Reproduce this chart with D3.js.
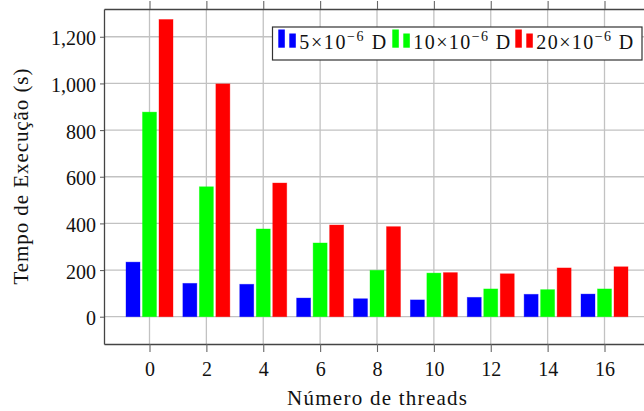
<!DOCTYPE html>
<html>
<head>
<meta charset="utf-8">
<script src="https://cdn.jsdelivr.net/npm/d3@7"></script>
<style>
	body { margin: 0; background: #fff; }
	svg { display: block; }
	svg text { font-family: "Liberation Serif", "Times New Roman", Times, "DejaVu Serif", serif; }
</style>
</head>
<body>
<svg id="chart"></svg>
<script>
// data
var threads = [0, 2, 4, 6, 8, 10, 12, 14, 16];
var serie5  = [234, 143, 139, 80, 77, 72, 83, 96, 97];
var serie10 = [877, 557, 376, 316, 199, 187, 119, 116, 119];
var serie20 = [1274, 998, 573, 393, 386, 189, 184, 209, 214];
var seriesMant = ["5", "10", "20"];
var seriesColors = ["#0000ff", "#00ff00", "#ff0000"];
var yTicks = [0, 200, 400, 600, 800, 1000, 1200];
var xLabel = "Número de threads";
var yLabel = "Tempo de Execução (s)";

var svgWidth = 644, svgHeight = 411;
// plot box (right edge falls outside the picture, as in the original)
var plotLeft = 104, plotRight = 650, plotTop = 9, plotBottom = 344;

var x = d3.scaleLinear().domain([-1.6, 17.6]).range([plotLeft, plotRight]);
var y = d3.scaleLinear().domain([-117, 1319]).range([plotBottom, plotTop]);

var series = [serie5, serie10, serie20];
var barW = 14, barStep = 16.5;

var svg = d3.select("#chart")
	.attr("width", svgWidth)
	.attr("height", svgHeight);

// grid
var grid = svg.append("g").attr("class", "grid")
	.attr("stroke", "#c2c2c2").attr("stroke-width", 1.3);
grid.selectAll(".vx").data(threads).enter().append("line")
	.attr("x1", d => x(d)).attr("x2", d => x(d))
	.attr("y1", plotTop).attr("y2", plotBottom);
grid.selectAll(".hy").data(yTicks).enter().append("line")
	.attr("x1", plotLeft).attr("x2", plotRight)
	.attr("y1", d => y(d)).attr("y2", d => y(d));

// bars
series.forEach(function(vals, i) {
	svg.append("g").attr("class", "bars")
		.selectAll("rect")
		.data(vals)
		.enter().append("rect")
			.attr("x", (d, j) => x(threads[j]) + (i - 1) * barStep - barW / 2)
			.attr("y", d => y(d))
			.attr("width", barW)
			.attr("height", d => y(0) - y(d))
			.attr("fill", seriesColors[i])
			.attr("stroke", seriesColors[i])
			.attr("stroke-opacity", 0.45)
			.attr("stroke-width", 0.8);
});

// axes
function styleAxis(g) {
	g.attr("font-family", null);
	g.select(".domain").attr("stroke", "#444").attr("stroke-width", 1.3);
	g.selectAll(".tick line").attr("stroke", "#666").attr("stroke-width", 1.1);
	g.selectAll("text").attr("font-size", 20).attr("fill", "#111");
}

svg.append("g")
	.attr("transform", "translate(0," + plotBottom + ")")
	.call(d3.axisBottom(x).tickValues(threads).tickSize(8).tickSizeOuter(0).tickPadding(10))
	.call(styleAxis);

svg.append("g")
	.attr("transform", "translate(0," + plotTop + ")")
	.call(d3.axisTop(x).tickValues(threads).tickSize(8).tickSizeOuter(0).tickFormat(""))
	.call(styleAxis);

svg.append("g")
	.attr("transform", "translate(" + plotLeft + ",0)")
	.call(d3.axisLeft(y).tickValues(yTicks).tickSize(4).tickSizeOuter(0).tickPadding(4)
		.tickFormat(d3.format(",")))
	.call(styleAxis)
	.selectAll("text").attr("dy", "0.4em");

svg.append("g")
	.attr("transform", "translate(" + plotRight + ",0)")
	.call(d3.axisRight(y).tickValues(yTicks).tickSize(4).tickSizeOuter(0).tickFormat(""))
	.call(styleAxis);

// axis labels
svg.append("text")
	.attr("x", (plotLeft + plotRight) / 2)
	.attr("y", 405)
	.attr("text-anchor", "middle")
	.attr("font-size", 21)
	.attr("textLength", 180)
	.attr("lengthAdjust", "spacing")
	.attr("fill", "#111")
	.text(xLabel);

svg.append("text")
	.attr("transform", "translate(28," + (plotTop + plotBottom) / 2 + ") rotate(-90)")
	.attr("text-anchor", "middle")
	.attr("font-size", 21)
	.attr("textLength", 216)
	.attr("lengthAdjust", "spacing")
	.attr("fill", "#111")
	.text(yLabel);

// legend
var legend = svg.append("g").attr("class", "legend");
legend.append("rect")
	.attr("x", 272.5).attr("y", 27)
	.attr("width", 369.5).attr("height", 33)
	.attr("fill", "#fff")
	.attr("stroke", "#333").attr("stroke-width", 1.2);

var entryX = [278.3, 392.3, 515.3];
var textW = [87, 97, 97];
seriesMant.forEach(function(m, i) {
	var g = legend.append("g").attr("transform", "translate(" + entryX[i] + ",0)");
	g.append("rect").attr("x", 0).attr("y", 29.5).attr("width", 6.5).attr("height", 18.2)
		.attr("fill", seriesColors[i]);
	g.append("rect").attr("x", 11).attr("y", 33.5).attr("width", 6.5).attr("height", 14.2)
		.attr("fill", seriesColors[i]);
	var t = g.append("text")
		.attr("x", 21).attr("y", 49.3)
		.attr("font-size", 20)
		.attr("fill", "#111")
		.attr("textLength", textW[i])
		.attr("lengthAdjust", "spacing");
	t.append("tspan").text(m + "×10");
	t.append("tspan").attr("font-size", 14).attr("dy", -8).text("−6");
	t.append("tspan").attr("dy", 8).text(" D");
});
</script>
</body>
</html>
